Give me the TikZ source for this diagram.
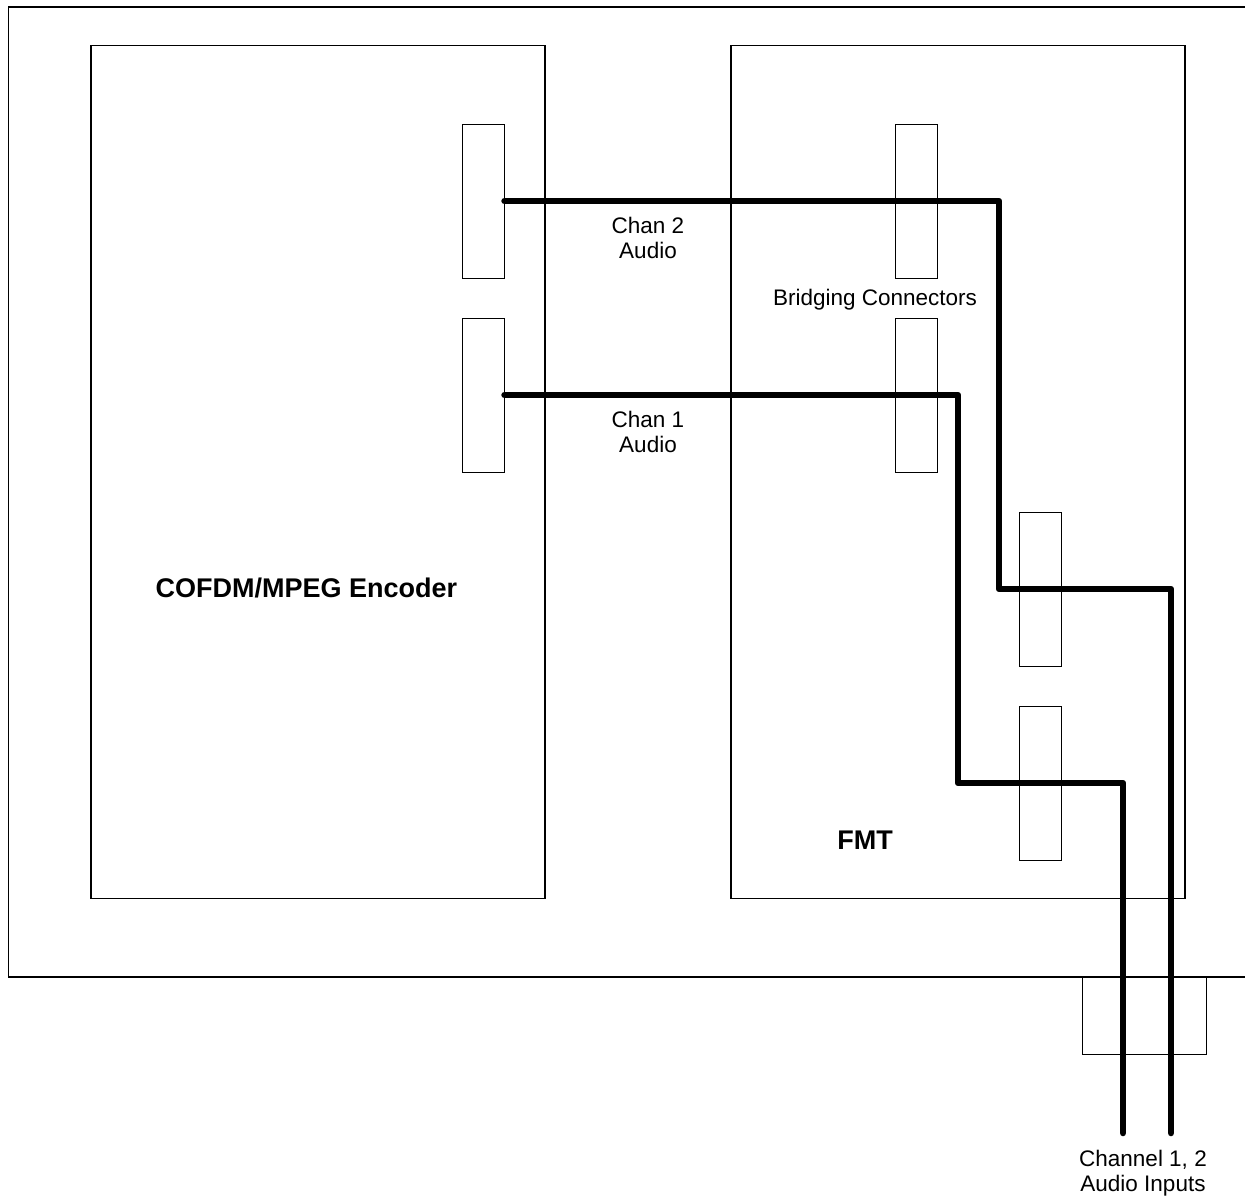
\documentclass[tikz,border=0pt]{standalone}
\usepackage{fontspec}
\setmainfont{Liberation Sans}
\begin{document}
\begin{tikzpicture}[x=1pt,y=-1pt,
  box/.style={draw,line width=1.3pt},
  conn/.style={draw,line width=1pt,rectangle,inner sep=0pt,minimum width=42pt,minimum height=154pt},
  wire/.style={line width=6.5pt,line cap=round,line join=round},
  lbl/.style={font=\fontsize{22.5}{25}\selectfont,align=center,inner sep=0pt,anchor=base},
  blbl/.style={font=\fontsize{27}{30}\selectfont\bfseries,inner sep=0pt}]
\useasboundingbox (0,0) rectangle (1245,1195);
\clip (0,0) rectangle (1245,1195);
% outer housing
\draw[box] (8.5,7) rectangle (1270,977);
% encoder and FMT
\node[box,rectangle,inner sep=0pt,minimum width=454pt,minimum height=853pt] (enc) at (318,472) {};
\node[box,rectangle,inner sep=0pt,minimum width=454pt,minimum height=853pt] (fmt) at (958,472) {};
% connectors
\node[conn] (e2) at (483,201) {};
\node[conn] (e1) at (483,395) {};
\node[conn] (b2) at (916.5,201) {};
\node[conn] (b1) at (916.5,395) {};
\node[conn] (r2) at (1040.5,589) {};
\node[conn] (r1) at (1040.5,783) {};
\node[draw,line width=1pt,rectangle,inner sep=0pt,minimum width=124pt,minimum height=77pt] (ext) at (1144,1015.5) {};
% wire turn points and ends
\coordinate (c2) at (999,589);
\coordinate (c1) at (958,783);
\coordinate (in2) at (1171,1133);
\coordinate (in1) at (1123,1133);
\draw[wire] (e2.east) -| (c2) -| (in2);
\draw[wire] (e1.east) -| (c1) -| (in1);
% labels
\node[lbl] (l2) at (648,233) {Chan 2};
\node[lbl] (l2b) at (648,258) {Audio};
\node[lbl] (l1) at (648,427) {Chan 1};
\node[lbl] (l1b) at (648,452) {Audio};
\node[lbl] (lb) at (875,305) {Bridging Connectors};
\node[lbl] (li) at (1143,1166) {Channel 1, 2};
\node[lbl] (lib) at (1143,1191) {Audio Inputs};
\node[blbl] (lenc) at (306.5,588) {COFDM/MPEG Encoder};
\node[blbl] (lfmt) at (865,840) {FMT};
\end{tikzpicture}
\end{document}
